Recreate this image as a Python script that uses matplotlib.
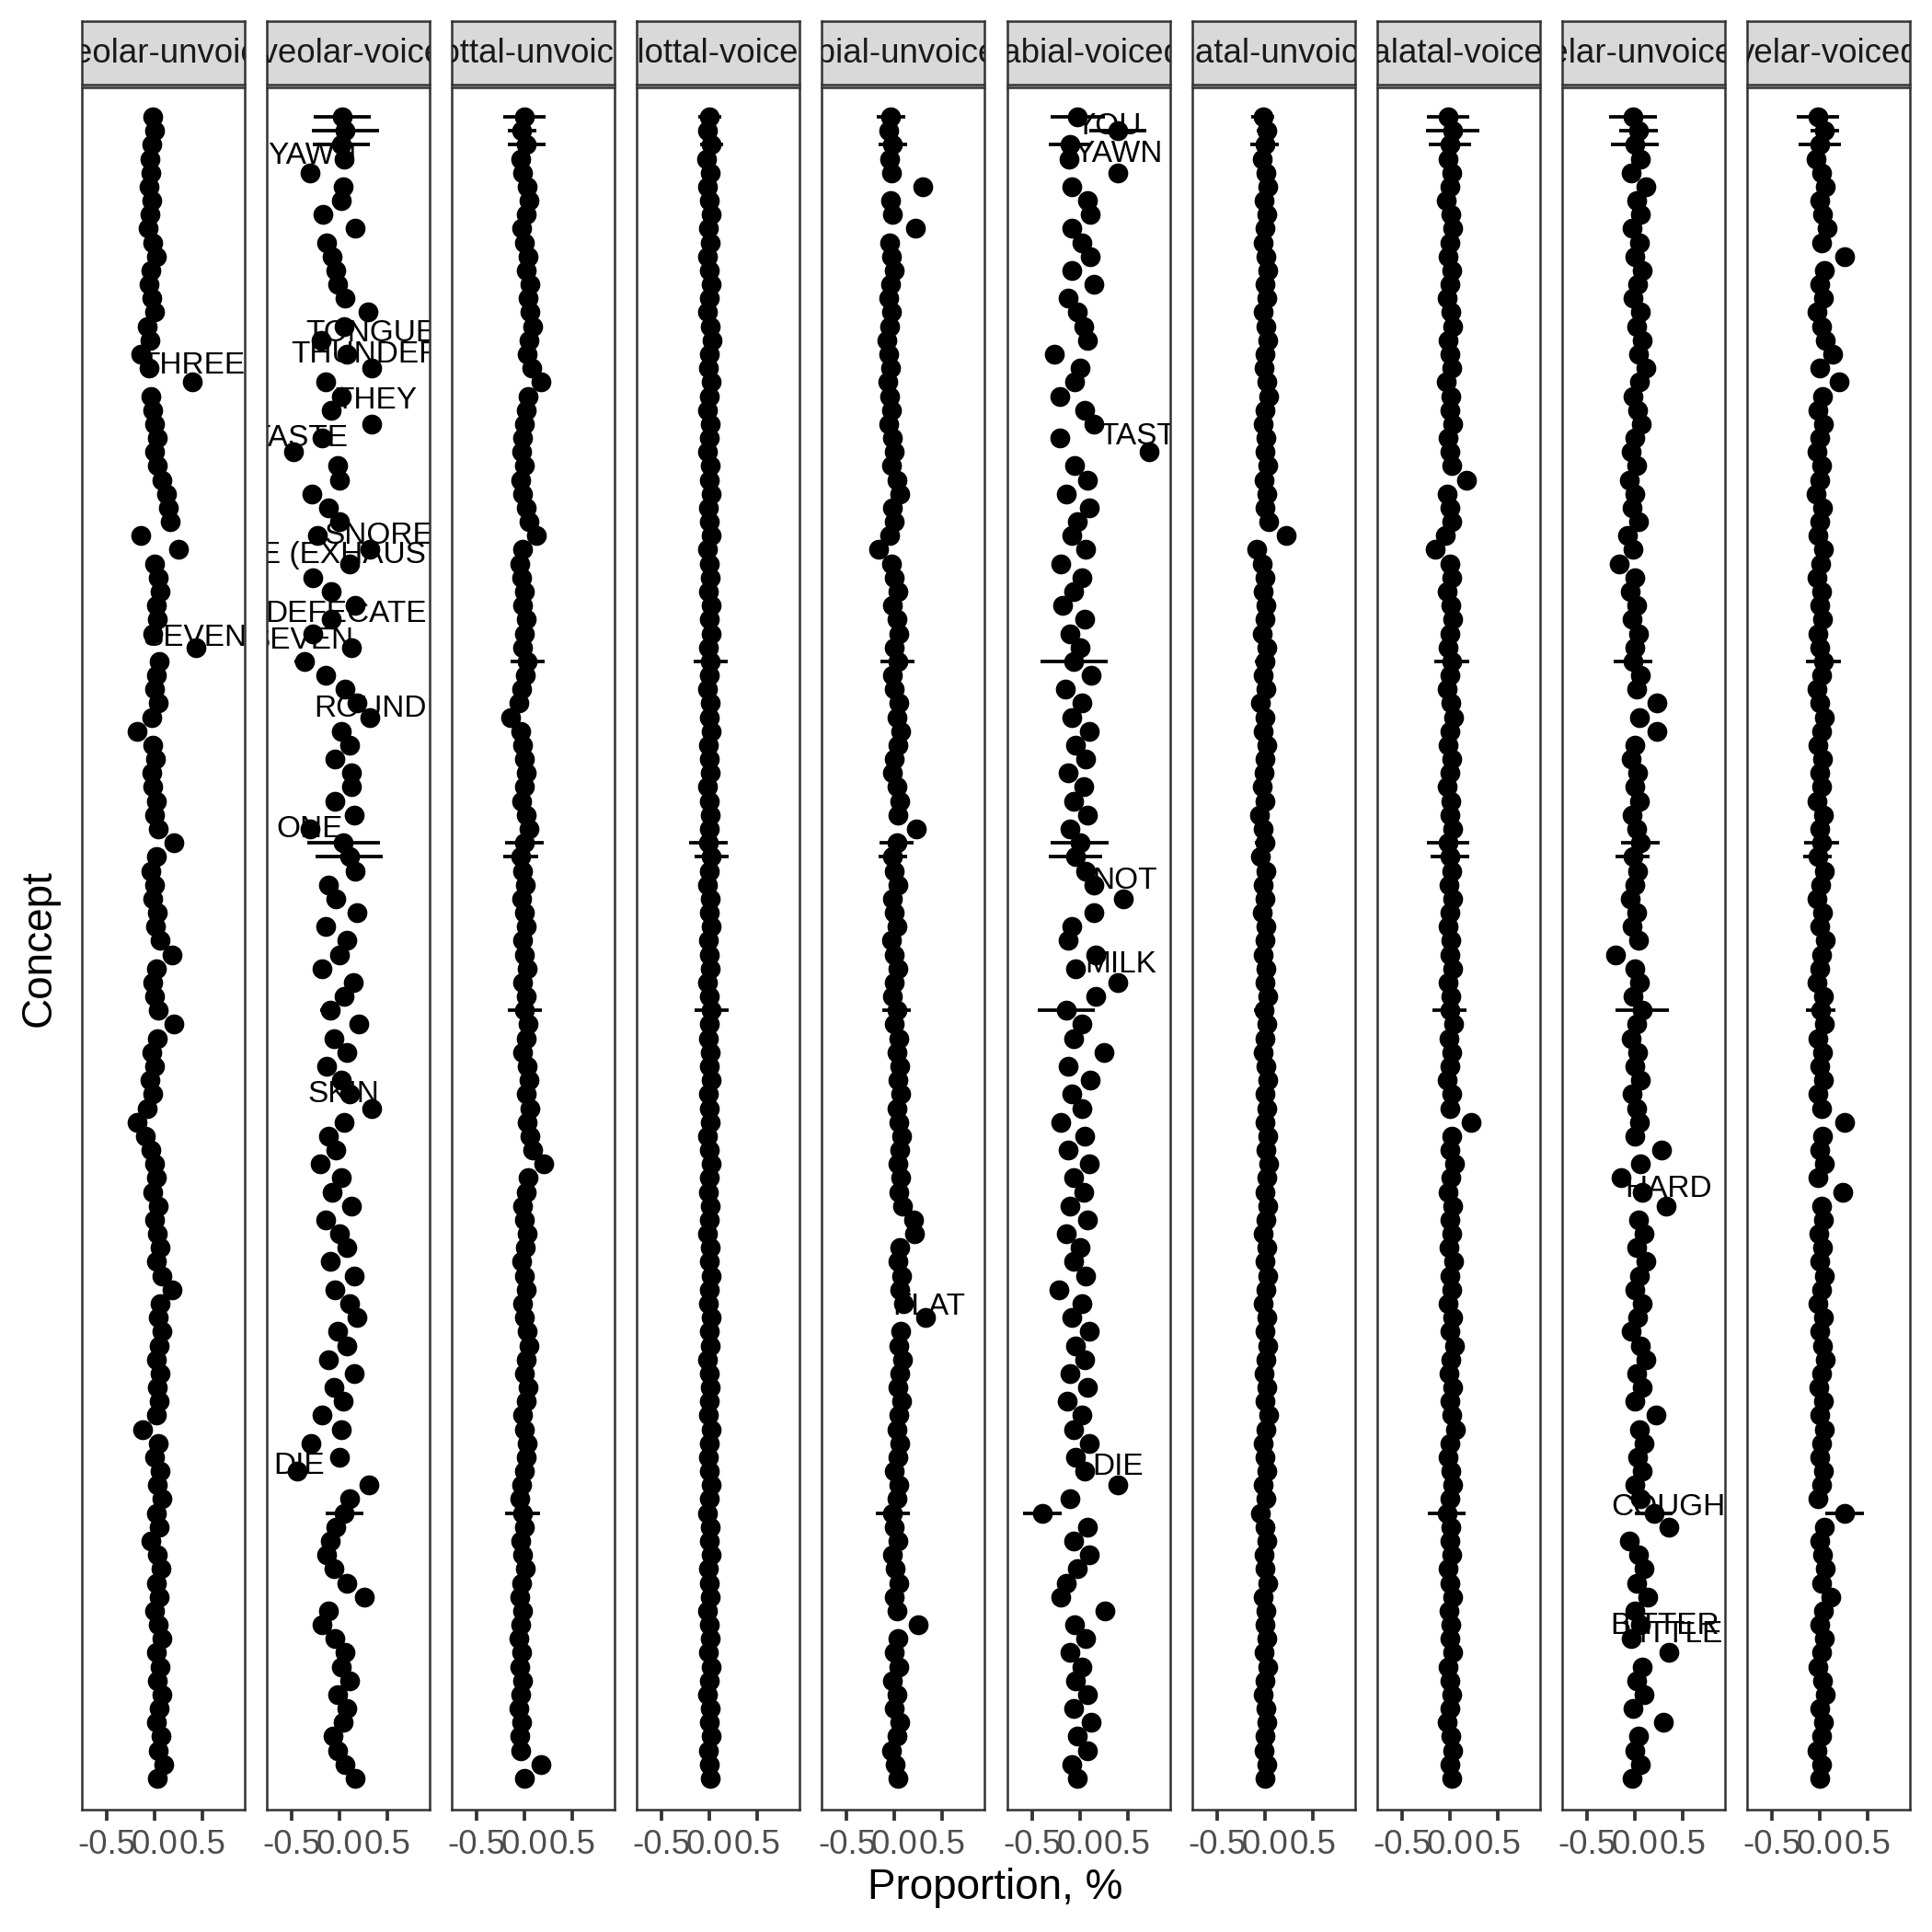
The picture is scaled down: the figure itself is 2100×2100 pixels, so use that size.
import numpy as np
import matplotlib
matplotlib.use("Agg")
import matplotlib.pyplot as plt

plt.rcParams["font.family"] = ["Liberation Sans", "DejaVu Sans"]

# ---- data: mean proportion per concept (rows top -> bottom) for each class ----
CLASSES = [
    "alveolar-unvoiced", "alveolar-voiced", "glottal-unvoiced", "glottal-voiced",
    "labial-unvoiced", "labial-voiced", "palatal-unvoiced", "palatal-voiced",
    "velar-unvoiced", "velar-voiced",
]

ALV_UNV = [
    -0.02, 0.0, -0.03, -0.05, -0.04, -0.06, -0.03, -0.05, -0.07, -0.02, 0.02, -0.04,
    -0.06, -0.03, 0.0, -0.08, -0.05, -0.14, -0.06, 0.39, -0.04, -0.02, 0.0, 0.03,
    0.0, 0.03, 0.08, 0.12, 0.14, 0.16, -0.14, 0.25, 0.0, 0.04, 0.06, 0.02,
    0.03, -0.02, 0.43, 0.05, 0.02, 0.0, 0.04, -0.03, -0.18, -0.02, 0.01, -0.03,
    -0.02, 0.02, 0.0, 0.04, 0.20, 0.02, -0.04, 0.0, -0.02, 0.03, 0.01, 0.06,
    0.18, 0.02, -0.02, 0.0, 0.04, 0.20, 0.03, -0.03, 0.0, -0.05, -0.02, -0.08,
    -0.18, -0.10, -0.04, 0.0, 0.02, -0.02, 0.04, 0.0, 0.03, 0.06, 0.02, 0.08,
    0.18, 0.06, 0.04, 0.08, 0.05, 0.02, 0.06, 0.03, 0.05, 0.02, -0.13, 0.04,
    0.0, 0.06, 0.03, 0.08, 0.02, 0.05, -0.04, 0.03, 0.07, 0.02, 0.05, 0.0,
    0.04, 0.08, 0.02, 0.06, 0.03, 0.08, 0.05, 0.02, 0.07, 0.04, 0.10, 0.03,
]
ALV_VOI = [
    0.03, 0.06, 0.02, 0.05, -0.31, 0.04, 0.02, -0.17, 0.16, -0.14, -0.08, -0.04,
    -0.02, 0.06, 0.30, 0.05, -0.19, 0.08, 0.34, -0.15, 0.02, -0.09, 0.34, -0.18,
    -0.48, -0.02, 0.0, -0.29, -0.12, 0.0, -0.23, 0.32, 0.10, -0.28, -0.09, 0.16,
    -0.09, -0.28, 0.12, -0.37, -0.15, 0.06, 0.18, 0.32, 0.02, 0.10, -0.05, 0.12,
    0.12, -0.05, 0.15, -0.31, 0.04, 0.10, 0.16, -0.12, -0.04, 0.18, -0.15, 0.08,
    0.0, -0.18, 0.14, 0.05, -0.10, 0.20, -0.06, 0.08, -0.14, 0.02, 0.10, 0.34,
    0.05, -0.12, -0.04, -0.20, 0.02, -0.08, 0.12, -0.15, 0.0, 0.08, -0.10, 0.15,
    -0.05, 0.10, 0.18, -0.02, 0.08, -0.12, 0.15, -0.06, 0.04, -0.18, 0.02, -0.30,
    0.0, -0.44, 0.31, 0.10, 0.05, -0.04, -0.10, -0.14, -0.06, 0.08, 0.26, -0.12,
    -0.18, -0.05, 0.06, 0.02, 0.10, -0.02, 0.08, 0.04, -0.07, -0.02, 0.06, 0.16,
]
GLO_UNV = [
    0.0, -0.03, 0.02, -0.04, -0.02, 0.03, 0.05, 0.02, -0.03, 0.0, 0.04, 0.02,
    0.06, 0.04, 0.06, 0.08, 0.05, 0.03, 0.07, 0.17, 0.04, 0.02, 0.0, -0.02,
    -0.03, 0.0, -0.04, -0.02, 0.02, 0.05, 0.12, -0.02, -0.05, -0.03, 0.0, -0.02,
    0.02, 0.0, -0.02, 0.03, 0.01, -0.03, -0.06, -0.15, -0.04, -0.02, 0.0, 0.02,
    0.0, -0.03, 0.02, 0.05, 0.0, -0.04, -0.02, 0.01, -0.03, 0.0, 0.02, -0.02,
    0.0, 0.03, -0.02, 0.02, 0.0, 0.04, 0.02, -0.02, 0.03, 0.05, 0.02, 0.06,
    0.03, 0.06, 0.08, 0.20, 0.04, 0.02, -0.02, 0.0, 0.03, 0.01, -0.03, 0.0,
    0.02, -0.02, 0.0, 0.03, 0.05, 0.02, 0.0, 0.04, 0.02, -0.02, 0.0, 0.03,
    0.02, 0.0, -0.03, -0.05, -0.02, 0.0, -0.04, -0.02, 0.01, -0.03, -0.05, -0.02,
    -0.04, -0.06, -0.03, -0.05, -0.02, -0.04, -0.06, -0.03, -0.05, -0.04, 0.17, 0.0,
]
GLO_VOI = [
    0.0, -0.02, 0.02, -0.03, 0.01, -0.02, 0.0, 0.02, -0.01, 0.01, -0.02, 0.0,
    0.02, 0.0, -0.02, 0.01, 0.03, 0.0, -0.01, 0.02, 0.0, -0.02, 0.01, 0.0,
    -0.02, 0.01, 0.0, 0.02, -0.01, 0.0, 0.02, -0.02, 0.0, 0.01, -0.01, 0.02,
    0.0, 0.02, -0.01, 0.01, 0.0, -0.02, 0.01, 0.0, 0.02, -0.01, 0.0, 0.01,
    -0.02, 0.0, 0.01, 0.0, -0.01, 0.02, 0.0, -0.02, 0.01, 0.0, 0.02, -0.01,
    0.0, 0.01, -0.02, 0.0, 0.02, 0.0, -0.01, 0.01, 0.0, 0.02, -0.01, 0.0,
    0.01, -0.02, 0.0, 0.02, 0.0, -0.01, 0.01, 0.0, -0.02, 0.01, 0.0, 0.02,
    0.0, -0.01, 0.02, 0.0, 0.01, -0.02, 0.0, 0.01, 0.0, -0.01, 0.02, 0.0,
    -0.01, 0.0, 0.02, 0.0, -0.02, 0.01, 0.0, 0.02, -0.01, 0.0, 0.01, -0.02,
    0.0, 0.01, -0.01, 0.02, 0.0, -0.02, 0.01, 0.0, 0.02, -0.01, 0.0, 0.01,
]
LAB_UNV = [
    -0.04, -0.06, -0.02, -0.05, -0.03, 0.29, -0.04, -0.02, 0.22, -0.05, -0.03, 0.0,
    -0.04, -0.06, -0.03, -0.05, -0.08, -0.06, -0.04, -0.07, -0.05, -0.03, -0.06, -0.02,
    0.0, -0.03, 0.02, 0.05, -0.02, 0.0, -0.05, -0.17, -0.03, 0.0, 0.03, -0.02,
    0.02, 0.04, 0.0, 0.03, -0.02, 0.0, 0.04, 0.02, 0.06, 0.03, 0.0, -0.02,
    0.02, 0.05, 0.03, 0.23, 0.02, -0.02, 0.0, 0.03, -0.02, 0.0, 0.02, -0.03,
    0.0, 0.03, 0.0, -0.02, 0.02, 0.0, 0.04, 0.02, 0.05, 0.03, 0.06, 0.02,
    0.04, 0.07, 0.05, 0.03, 0.06, 0.04, 0.08, 0.20, 0.21, 0.05, 0.03, 0.07,
    0.05, 0.09, 0.32, 0.06, 0.04, 0.08, 0.05, 0.03, 0.07, 0.04, 0.02, 0.05,
    0.03, 0.0, 0.04, 0.02, -0.02, 0.0, 0.03, -0.02, 0.01, 0.04, 0.0, 0.02,
    0.25, 0.03, 0.0, 0.04, -0.02, 0.02, 0.0, 0.05, 0.02, -0.03, 0.01, 0.03,
]
LAB_VOI = [
    -0.02, 0.40, -0.10, -0.11, 0.40, -0.08, 0.08, 0.11, -0.08, 0.02, 0.11, -0.08,
    0.15, -0.12, -0.02, 0.04, 0.08, -0.26, 0.0, -0.05, -0.21, 0.05, 0.15, -0.21,
    0.73, -0.05, 0.08, -0.14, 0.10, -0.02, -0.08, 0.06, -0.20, 0.02, -0.06, -0.18,
    0.05, -0.10, 0.0, -0.06, 0.12, -0.15, 0.02, -0.08, 0.10, -0.04, 0.06, -0.12,
    0.04, -0.06, 0.08, -0.10, 0.0, -0.04, 0.06, 0.15, 0.46, 0.15, -0.08, -0.12,
    0.17, -0.04, 0.40, 0.17, -0.14, 0.02, -0.06, 0.25, -0.12, 0.11, -0.08, 0.02,
    -0.20, 0.05, -0.12, 0.10, -0.06, 0.04, -0.10, 0.08, -0.14, 0.0, -0.06, 0.06,
    -0.22, 0.02, -0.08, 0.10, -0.04, 0.05, -0.10, 0.08, -0.13, 0.02, -0.06, 0.10,
    -0.04, 0.05, 0.40, -0.10, -0.39, 0.08, -0.06, 0.10, -0.02, -0.14, -0.20, 0.26,
    -0.05, 0.06, -0.10, 0.02, -0.04, 0.08, -0.06, 0.12, -0.02, 0.08, -0.08, -0.02,
]
PAL_UNV = [
    -0.02, 0.02, 0.0, -0.03, 0.01, 0.03, -0.01, 0.02, 0.0, -0.02, 0.01, 0.03,
    0.0, 0.02, -0.02, 0.01, 0.03, 0.0, -0.01, 0.02, 0.04, 0.0, -0.02, 0.01,
    0.0, 0.03, -0.01, 0.02, 0.0, 0.04, 0.22, -0.08, -0.03, 0.0, -0.02, 0.01,
    0.0, -0.03, 0.02, 0.0, -0.02, 0.01, -0.04, 0.0, -0.02, 0.02, 0.0, -0.01,
    -0.03, 0.0, -0.05, -0.02, 0.0, -0.04, 0.01, -0.02, 0.0, -0.03, 0.01, 0.0,
    -0.02, 0.01, 0.0, 0.03, -0.01, 0.02, 0.0, -0.02, 0.01, 0.03, 0.0, 0.02,
    0.0, 0.03, 0.01, 0.04, 0.02, 0.0, 0.03, 0.01, -0.02, 0.02, 0.0, 0.03,
    0.01, -0.02, 0.02, 0.0, 0.03, 0.01, -0.01, 0.02, 0.0, 0.04, 0.01, -0.02,
    0.0, 0.02, -0.02, 0.01, -0.04, 0.0, 0.02, -0.01, 0.0, 0.03, -0.02, 0.01,
    0.0, 0.02, -0.01, 0.03, 0.0, -0.02, 0.01, 0.02, 0.0, -0.01, 0.02, 0.0,
]
PAL_VOI = [
    -0.02, 0.03, 0.0, -0.02, 0.02, 0.0, -0.04, 0.01, 0.03, 0.0, -0.02, 0.02,
    0.0, -0.03, 0.01, 0.03, -0.02, 0.0, 0.02, -0.04, 0.01, 0.0, 0.03, -0.02,
    0.0, 0.02, 0.18, -0.03, 0.0, 0.02, -0.05, -0.15, 0.0, 0.02, -0.03, 0.01,
    0.03, 0.0, -0.02, 0.02, 0.0, -0.03, 0.01, 0.04, 0.0, -0.02, 0.02, 0.0,
    -0.03, 0.01, 0.0, 0.03, -0.02, 0.0, 0.02, -0.01, 0.03, 0.0, -0.02, 0.01,
    0.0, 0.03, -0.02, 0.01, 0.0, 0.04, -0.01, 0.02, 0.0, -0.03, 0.02, 0.0,
    0.22, 0.02, 0.0, 0.05, 0.01, -0.02, 0.03, 0.0, 0.02, -0.01, 0.04, 0.0,
    0.02, -0.02, 0.03, 0.0, 0.05, 0.01, -0.01, 0.03, 0.0, 0.02, 0.06, 0.0,
    -0.02, 0.01, 0.03, 0.0, -0.03, 0.01, 0.0, 0.02, -0.02, 0.0, 0.03, -0.01,
    0.01, 0.0, 0.03, -0.02, 0.0, 0.02, 0.0, -0.03, 0.01, 0.03, 0.0, 0.02,
]
VEL_UNV = [
    -0.02, 0.04, 0.0, 0.06, -0.04, 0.12, 0.02, 0.06, -0.03, 0.05, 0.0, 0.08,
    0.03, -0.02, 0.06, 0.02, 0.08, 0.04, 0.12, 0.05, -0.02, 0.03, 0.07, 0.0,
    -0.04, 0.02, -0.06, 0.0, -0.03, 0.04, -0.08, -0.02, -0.16, 0.0, -0.05, 0.02,
    -0.03, 0.04, 0.0, -0.02, 0.06, 0.02, 0.23, 0.05, 0.23, 0.0, -0.04, 0.03,
    0.0, 0.05, -0.03, 0.02, 0.06, -0.02, 0.03, 0.0, -0.05, 0.02, -0.03, 0.04,
    -0.20, 0.0, 0.05, -0.02, 0.08, 0.02, -0.04, 0.03, 0.0, 0.06, -0.03, 0.02,
    0.05, 0.0, 0.28, 0.06, -0.14, 0.08, 0.33, 0.04, 0.10, 0.02, 0.12, 0.05,
    0.0, 0.08, 0.03, -0.04, 0.06, 0.12, 0.02, 0.08, 0.0, 0.22, 0.05, 0.10,
    0.03, 0.08, 0.0, 0.06, 0.20, 0.36, -0.06, 0.04, 0.10, 0.02, 0.14, 0.0,
    0.06, -0.04, 0.36, 0.08, 0.02, 0.10, -0.02, 0.30, 0.04, 0.0, 0.06, -0.03,
]
VEL_VOI = [
    -0.02, 0.05, 0.0, -0.04, 0.02, 0.06, 0.0, 0.03, 0.08, 0.02, 0.26, 0.05,
    0.0, 0.04, -0.03, 0.02, 0.06, 0.14, 0.0, 0.20, 0.03, -0.02, 0.04, 0.0,
    -0.03, 0.02, 0.0, -0.04, 0.03, 0.0, -0.02, 0.04, 0.01, -0.03, 0.02, 0.0,
    0.03, -0.02, 0.0, 0.04, 0.02, -0.03, 0.0, 0.05, 0.02, -0.02, 0.03, 0.0,
    0.02, -0.03, 0.04, 0.0, 0.02, -0.02, 0.05, 0.01, -0.03, 0.03, 0.0, 0.06,
    0.02, 0.0, -0.03, 0.04, 0.01, 0.05, -0.02, 0.03, 0.0, 0.04, -0.02, 0.02,
    0.26, 0.03, 0.0, 0.05, -0.02, 0.24, 0.02, 0.04, -0.01, 0.03, 0.0, 0.05,
    0.02, -0.02, 0.04, 0.0, 0.03, 0.06, 0.02, -0.01, 0.04, 0.0, 0.05, 0.02,
    0.0, 0.04, 0.02, -0.02, 0.26, 0.05, 0.0, 0.03, 0.06, 0.02, 0.12, 0.04,
    0.0, 0.05, 0.02, -0.02, 0.03, 0.06, 0.0, 0.04, 0.02, -0.03, 0.02, 0.0,
]

PROPS = [ALV_UNV, ALV_VOI, GLO_UNV, GLO_VOI, LAB_UNV,
         LAB_VOI, PAL_UNV, PAL_VOI, VEL_UNV, VEL_VOI]

# concepts with few observations -> visible interval half-widths (per class)
WIDE_ROWS = [0, 1, 2, 39, 52, 53, 64, 100]
WIDE_ERR = [
    [0.05, 0.30, 0.22, 0.12, 0.15, 0.28, 0.12, 0.22, 0.25, 0.22],
    [0.05, 0.35, 0.15, 0.10, 0.10, 0.30, 0.10, 0.28, 0.20, 0.15],
    [0.05, 0.30, 0.20, 0.12, 0.15, 0.22, 0.15, 0.22, 0.25, 0.22],
    [0.05, 0.10, 0.18, 0.18, 0.18, 0.35, 0.10, 0.18, 0.20, 0.18],
    [0.05, 0.38, 0.20, 0.20, 0.18, 0.30, 0.10, 0.22, 0.20, 0.18],
    [0.05, 0.35, 0.18, 0.18, 0.15, 0.28, 0.10, 0.20, 0.18, 0.15],
    [0.05, 0.10, 0.18, 0.18, 0.15, 0.30, 0.10, 0.18, 0.28, 0.15],
    [0.05, 0.20, 0.18, 0.08, 0.18, 0.20, 0.08, 0.20, 0.20, 0.20],
]

# outlier labels: (panel, text)
LABELS = [
    (0, "THREE"), (0, "SEVEN"),
    (1, "YAWN"), (1, "TONGUE"), (1, "THUNDER"), (1, "THEY"), (1, "TASTE"),
    (1, "SNORE"), (1, "BREATHE (EXHAUST)"), (1, "DEFECATE"), (1, "SEVEN"),
    (1, "ROUND"), (1, "ONE"), (1, "SKIN"), (1, "DIE"),
    (4, "FLAT"),
    (5, "YOU"), (5, "YAWN"), (5, "TASTE"), (5, "NOT"), (5, "MILK"), (5, "DIE"),
    (8, "HARD"), (8, "COUGH"), (8, "BITTER"), (8, "LITTLE"),
]
# repelled label placement (x in data units, y in concept rows)
LABEL_XY = [
    (0.40, 17.8), (0.42, 37.3),
    (-0.29, 2.8), (0.33, 15.5), (0.28, 17.0), (0.38, 20.3), (-0.42, 23.0),
    (0.41, 30.0), (-0.45, 31.4), (0.07, 35.6), (-0.40, 37.5),
    (0.32, 42.4), (-0.31, 51.0), (0.04, 70.0), (-0.42, 96.6),
    (0.36, 85.2),
    (0.30, 0.7), (0.40, 2.7), (0.71, 22.9), (0.47, 54.7), (0.43, 60.7), (0.40, 96.7),
    (0.35, 76.8), (0.35, 99.6), (0.31, 108.1), (0.39, 108.7),
]

# ---- layout (pixels of the 2100x2100 canvas) ----
W = H = 2100
PANEL_LEFT = 89
PANEL_STEP = 201.1
PANEL_W = 177
PANEL_TOP = 95
PANEL_BOTTOM = 1967
STRIP_TOP = 23
STRIP_BOTTOM = 92
XLIM = (-0.76, 0.942)

BORDER = "#333333"

n = len(ALV_UNV)
for p in PROPS:
    assert len(p) == n
rows = np.arange(n)
spacing = (1933 - 127) / (n - 1)
ylim = (n - 1 + 34 / spacing, -32 / spacing)

fig = plt.figure(figsize=(7, 7), dpi=300)

for k, (name, vals) in enumerate(zip(CLASSES, PROPS)):
    left = (PANEL_LEFT + k * PANEL_STEP) / W
    ax = fig.add_axes([left, 1 - PANEL_BOTTOM / H, PANEL_W / W,
                       (PANEL_BOTTOM - PANEL_TOP) / H])
    vals = np.asarray(vals)

    err_rows = np.array(WIDE_ROWS)
    err_w = np.array([r[k] for r in WIDE_ERR])
    ax.errorbar(vals[err_rows], err_rows, xerr=err_w, fmt="none",
                ecolor="black", elinewidth=0.9, capsize=0, zorder=2)
    ax.plot(vals, rows, "o", ms=5.2, color="black", mew=0, zorder=3)

    # labels sit under the points, as in the original
    for (pk, txt), (lx, ly) in zip(LABELS, LABEL_XY):
        if pk == k:
            ax.text(lx, ly, txt, ha="center", va="center", fontsize=8,
                    color="black", clip_on=True, zorder=2.5)

    ax.set_xlim(*XLIM)
    ax.set_ylim(*ylim)
    ax.set_xticks([-0.5, 0.0, 0.5])
    ax.set_xticklabels(["-0.5", "0.0", "0.5"])
    ax.set_yticks([])
    ax.tick_params(axis="x", length=2.9, width=0.9, color=BORDER,
                   labelsize=8.8, labelcolor="#4D4D4D", pad=2.2)
    for s in ax.spines.values():
        s.set_color(BORDER)
        s.set_linewidth(0.6)

    # facet strip
    sax = fig.add_axes([left, 1 - STRIP_BOTTOM / H, PANEL_W / W,
                        (STRIP_BOTTOM - STRIP_TOP) / H])
    sax.set_facecolor("#D9D9D9")
    sax.set_xticks([])
    sax.set_yticks([])
    for s in sax.spines.values():
        s.set_color(BORDER)
        s.set_linewidth(0.6)
    sax.text(0.5, 0.48, name, ha="center", va="center", fontsize=8.8,
             color="#1A1A1A", clip_on=True, transform=sax.transAxes)

fig.text(1082 / W, 1 - 2052 / H, "Proportion, %", ha="center", va="center",
         fontsize=11)
fig.text(43 / W, 1 - 1031 / H, "Concept", ha="center", va="center",
         fontsize=11, rotation=90)

fig.savefig("out.png", dpi=300)
